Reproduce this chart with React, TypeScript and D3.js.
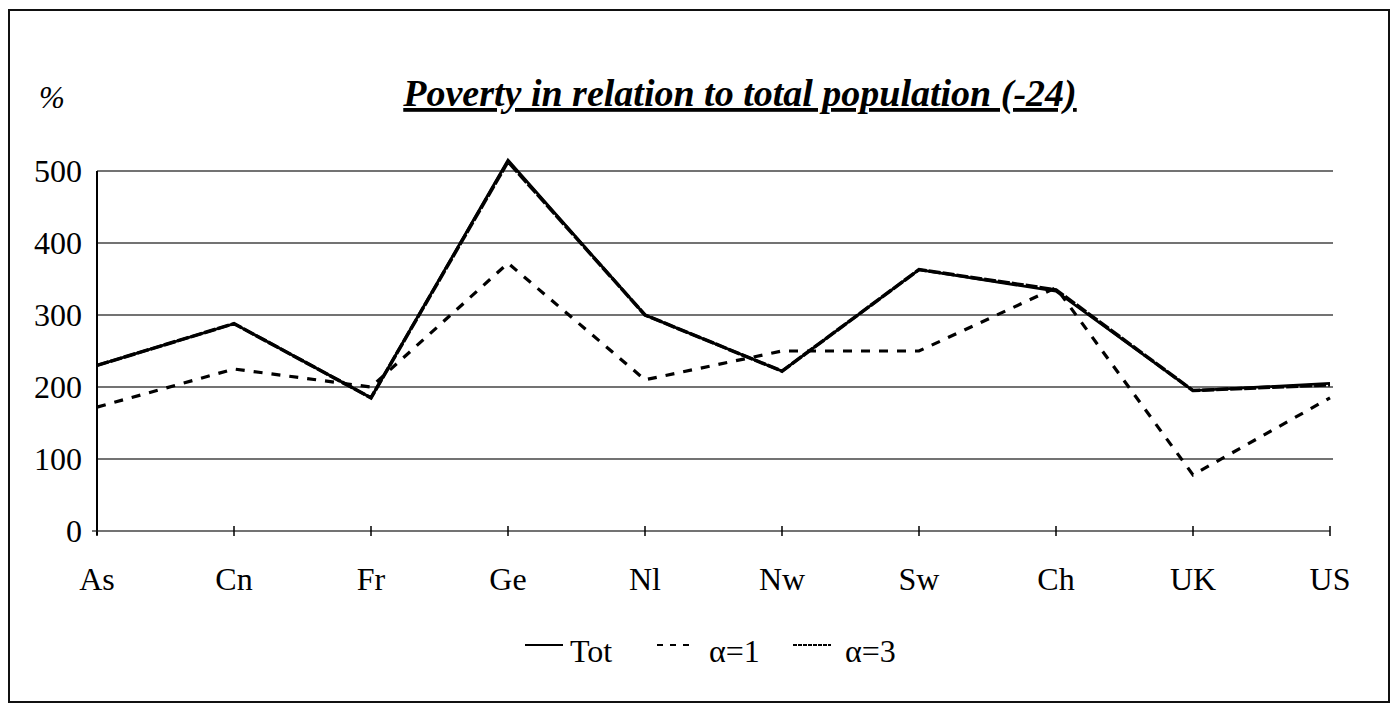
import { useRef, useEffect } from "react";
import * as d3 from "d3";

const CATEGORIES = ["As", "Cn", "Fr", "Ge", "Nl", "Nw", "Sw", "Ch", "UK", "US"];
const TOT = [230, 288, 185, 515, 300, 222, 363, 333, 195, 205];
const ALPHA1 = [172, 225, 200, 372, 210, 250, 250, 338, 78, 185];
const ALPHA3 = [230, 288, 185, 513, 300, 222, 363, 335, 195, 203];
const Y_TICKS = [0, 100, 200, 300, 400, 500];

const W = 1395;
const H = 705;
const FONT = "'Liberation Serif', 'DejaVu Serif', serif";
const PLOT = { left: 97, right: 1330, top: 171, bottom: 531 };

export default function App() {
  const svgRef = useRef<SVGSVGElement>(null);

  useEffect(() => {
    const svg = svgRef.current;
    if (!svg) return;
    const root = d3.select(svg);
    root.selectAll("*").remove();

    const x = d3
      .scalePoint<string>()
      .domain(CATEGORIES)
      .range([PLOT.left, PLOT.right]);
    const y = d3.scaleLinear().domain([0, 500]).range([PLOT.bottom, PLOT.top]);

    // outer frame
    root
      .append("rect")
      .attr("x", 9)
      .attr("y", 10)
      .attr("width", 1380)
      .attr("height", 692)
      .attr("fill", "none")
      .attr("stroke", "#111")
      .attr("stroke-width", 2);

    // title
    root
      .append("text")
      .attr("x", 740)
      .attr("y", 106)
      .attr("text-anchor", "middle")
      .attr("font-family", FONT)
      .attr("font-style", "italic")
      .attr("font-weight", "bold")
      .attr("font-size", 38)
      .attr("text-decoration", "underline")
      .attr("fill", "#000")
      .text("Poverty in relation to total population (-24)");

    root
      .append("text")
      .attr("x", 39)
      .attr("y", 108)
      .attr("font-family", FONT)
      .attr("font-style", "italic")
      .attr("font-size", 31)
      .attr("fill", "#000")
      .text("%");

    // grid lines
    for (const t of Y_TICKS) {
      if (t === 0) continue;
      root
        .append("line")
        .attr("x1", PLOT.left)
        .attr("x2", PLOT.right + 3)
        .attr("y1", y(t))
        .attr("y2", y(t))
        .attr("stroke", "#444")
        .attr("stroke-width", 1.6);
    }

    // y tick labels
    for (const t of Y_TICKS) {
      root
        .append("text")
        .attr("x", 82)
        .attr("y", y(t))
        .attr("dy", "0.35em")
        .attr("text-anchor", "end")
        .attr("font-family", FONT)
        .attr("font-size", 32)
        .attr("fill", "#000")
        .text(String(t));
    }

    // axes
    root
      .append("line")
      .attr("x1", PLOT.left)
      .attr("x2", PLOT.left)
      .attr("y1", y(500))
      .attr("y2", y(0) + 4)
      .attr("stroke", "#000")
      .attr("stroke-width", 2);
    root
      .append("line")
      .attr("x1", PLOT.left - 5)
      .attr("x2", PLOT.right)
      .attr("y1", y(0))
      .attr("y2", y(0))
      .attr("stroke", "#444")
      .attr("stroke-width", 1.6);
    for (const c of CATEGORIES) {
      root
        .append("line")
        .attr("x1", x(c)!)
        .attr("x2", x(c)!)
        .attr("y1", y(0) - 5)
        .attr("y2", y(0) + 5)
        .attr("stroke", "#000")
        .attr("stroke-width", 1.5);
      root
        .append("text")
        .attr("x", x(c)!)
        .attr("y", 590)
        .attr("text-anchor", "middle")
        .attr("font-family", FONT)
        .attr("font-size", 32)
        .attr("fill", "#000")
        .text(c);
    }

    const line = d3
      .line<number>()
      .x((_, i) => x(CATEGORIES[i])!)
      .y((d) => y(d));

    root
      .append("path")
      .datum(ALPHA3)
      .attr("d", line)
      .attr("fill", "none")
      .attr("stroke", "#000")
      .attr("stroke-width", 3.5)
      .attr("stroke-dasharray", "12,2");

    root
      .append("path")
      .datum(TOT)
      .attr("d", line)
      .attr("fill", "none")
      .attr("stroke", "#000")
      .attr("stroke-width", 2.8);

    root
      .append("path")
      .datum(ALPHA1)
      .attr("d", line)
      .attr("fill", "none")
      .attr("stroke", "#000")
      .attr("stroke-width", 3.2)
      .attr("stroke-dasharray", "9,9");

    // legend
    const legend = [
      { label: "Tot", x: 525, dash: null as string | null },
      { label: "α=1", x: 657, dash: "6,7" },
      { label: "α=3", x: 793, dash: "4,1" },
    ];
    for (const item of legend) {
      const l = root
        .append("line")
        .attr("x1", item.x)
        .attr("x2", item.x + 38)
        .attr("y1", 645)
        .attr("y2", 645)
        .attr("stroke", "#000")
        .attr("stroke-width", 2);
      if (item.dash) l.attr("stroke-dasharray", item.dash);
      root
        .append("text")
        .attr("x", item.x + (item.label === "Tot" ? 45 : 52))
        .attr("y", 662)
        .attr("font-family", FONT)
        .attr("font-size", 32)
        .attr("fill", "#000")
        .text(item.label);
    }
  }, []);

  return (
    <svg
      ref={svgRef}
      width={W}
      height={H}
      style={{ position: "absolute", left: 0, top: 0, background: "#fff" }}
    />
  );
}
